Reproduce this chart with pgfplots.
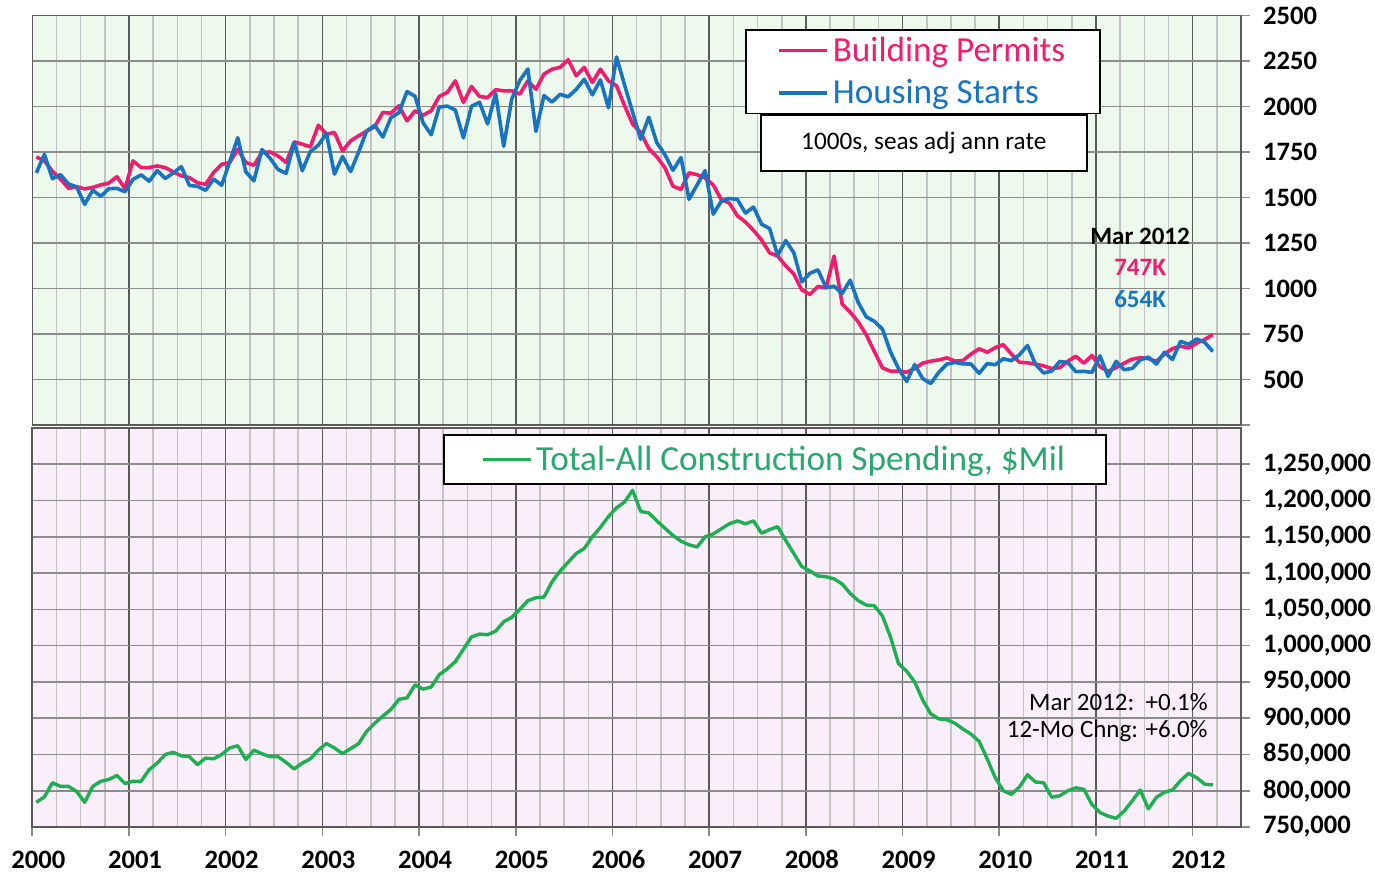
\documentclass[border=0pt]{standalone}
\usepackage{pgfplots}
\pgfplotsset{compat=1.18}
\usepackage{pgfplotstable}
\usepackage{fontspec}
\setmainfont{Carlito}
\definecolor{bpink}{RGB}{240,28,110}
\definecolor{hblue}{RGB}{24,116,190}
\definecolor{cgreen}{RGB}{30,176,80}
\definecolor{cgtext}{RGB}{40,168,110}
\definecolor{bggreen}{RGB}{238,249,238}
\definecolor{bgpink}{RGB}{251,238,251}
\definecolor{gridmaj}{RGB}{90,90,90}
\definecolor{gridmid}{RGB}{140,140,140}
\definecolor{gridmin}{RGB}{195,195,195}

\pgfplotstableread{
p s c
1724 1636 784000
1702 1737 791500
1645 1604 811000
1601 1626 806000
1551 1575 806000
1560 1559 799000
1548 1463 784000
1556 1541 806000
1570 1507 813000
1580 1549 815500
1615 1551 821000
1550 1532 810000
1702 1600 813000
1665 1625 813000
1665 1590 829000
1674 1649 838000
1665 1605 850000
1641 1636 853000
1620 1670 848000
1610 1567 847000
1582 1562 836000
1573 1540 845000
1638 1602 844000
1683 1568 850000
1693 1698 859000
1766 1829 862000
1693 1642 843000
1678 1592 856000
1748 1764 851000
1751 1717 847000
1729 1655 847000
1693 1633 839000
1806 1804 830000
1794 1648 838000
1779 1753 844000
1898 1788 856000
1849 1853 865000
1858 1629 859000
1757 1726 851000
1812 1643 858000
1840 1751 865000
1865 1867 882000
1890 1897 893000
1968 1833 903000
1964 1939 912000
2005 1967 926000
1922 2083 928000
1977 2057 946000
1953 1911 940000
1977 1846 943000
2056 1998 960000
2078 2003 968000
2142 1981 978000
2023 1828 995000
2111 2002 1012000
2056 2024 1016000
2050 1905 1015000
2093 2072 1020000
2087 1782 1033000
2087 2042 1039000
2069 2144 1050000
2142 2207 1062000
2096 1864 1066000
2179 2061 1067000
2206 2025 1088000
2216 2068 1103000
2258 2054 1115000
2170 2095 1127000
2216 2151 1134000
2133 2065 1150000
2206 2147 1163000
2142 1994 1178000
2115 2273 1190000
2005 2119 1198000
1904 1969 1214000
1858 1821 1185000
1770 1942 1183000
1725 1802 1172000
1665 1737 1162000
1563 1650 1152000
1545 1720 1144000
1636 1491 1139000
1626 1570 1136000
1608 1649 1150000
1570 1409 1154000
1489 1480 1161000
1470 1495 1168000
1400 1490 1172000
1366 1415 1168000
1320 1448 1172000
1267 1354 1155000
1196 1330 1160000
1179 1183 1164000
1125 1264 1145000
1080 1197 1127000
992 1037 1109000
968 1084 1103000
1012 1103 1096000
1004 1005 1095000
1179 1013 1092000
915 973 1085000
870 1046 1072000
817 923 1062000
745 844 1056000
654 820 1055000
564 777 1041000
546 652 1012000
546 560 975000
540 490 965000
560 582 950000
590 505 925000
601 478 906000
608 540 899000
619 585 898000
601 594 893000
605 586 885000
640 585 878000
669 534 868000
650 588 844000
675 581 818000
692 614 800000
640 604 795000
595 636 805000
592 687 822000
585 583 812000
575 536 811000
560 546 791000
565 599 793000
600 594 800000
628 543 804000
590 545 802000
632 539 781000
570 630 770000
546 517 765000
565 600 762000
590 554 772000
612 561 786000
620 608 801000
615 623 775000
600 585 791000
640 650 798000
670 610 801000
683 710 814000
674 694 824000
700 723 818000
720 704 809000
747 654 808000
}\datatable

\pgfplotsset{
  panel/.style={
    scale only axis,
    width=604.35pt,
    xmin=-0.5, xmax=149.5,
    xtick={-0.5,11.5,...,143.5},
    minor xtick={2.5,5.5,8.5,14.5,17.5,20.5,26.5,29.5,32.5,38.5,41.5,44.5,50.5,53.5,56.5,62.5,65.5,68.5,74.5,77.5,80.5,86.5,89.5,92.5,98.5,101.5,104.5,110.5,113.5,116.5,122.5,125.5,128.5,134.5,137.5,140.5,146.5},
    xmajorgrids, xminorgrids, ymajorgrids,
    major x grid style={gridmaj, line width=0.8pt},
    minor x grid style={gridmin, line width=0.8pt},
    major y grid style={gridmid, line width=0.8pt},
    axis line style={gridmaj, line width=0.8pt},
    tick align=outside,
    major tick length=4.5pt,
    minor tick length=0pt,
    ytick pos=right,
    yticklabel pos=right,
    ytick style={gridmid, line width=0.8pt},
    yticklabel style={font=\bfseries\fontsize{13.3}{15}\selectfont, anchor=west, xshift=3pt},
    scaled y ticks=false,
    legend image code/.code={\draw[#1] (0pt,0pt) -- (24pt,0pt);},
  }
}

\begin{document}
\begin{tikzpicture}
\useasboundingbox (0,0) rectangle (687.5pt,-436pt);

\begin{axis}[panel,
  at={(16.15pt,-7.85pt)}, anchor=north west,
  height=204.65pt,
  ymin=250, ymax=2500,
  ytick={250,500,...,2500},
  yticklabels={,500,750,1000,1250,1500,1750,2000,2250,2500},
  xticklabels={},
  xtick style={draw=none},
  axis background/.style={fill=bggreen},
  legend style={at={(rel axis cs:0.590,0.9675)}, anchor=north west,
    draw=black, line width=0.8pt, fill=white,
    font=\fontsize{17.6}{20}\selectfont,
    inner xsep=15.5pt, inner ysep=1.5pt, row sep=3.5pt,
    cells={anchor=west}},
]
\addplot[bpink, line width=1.8pt, line join=round] table[x expr=\coordindex, y=p] {\datatable};
\addlegendentry{\textcolor{bpink}{Building Permits}}
\addplot[hblue, line width=1.8pt, line join=round] table[x expr=\coordindex, y=s] {\datatable};
\addlegendentry{\textcolor{hblue}{Housing Starts}}
\node[draw=black, line width=0.8pt, fill=white, minimum width=163pt, minimum height=28pt, anchor=north west, font=\fontsize{12.6}{14}\selectfont] at (rel axis cs:0.602,0.760) {1000s, seas adj ann rate};
\node[font=\bfseries\fontsize{12.5}{14}\selectfont] at (rel axis cs:0.9165,0.4618) {Mar 2012};
\node[font=\bfseries\fontsize{12.5}{14}\selectfont, text=bpink] at (rel axis cs:0.9165,0.386) {747K};
\node[font=\bfseries\fontsize{12.5}{14}\selectfont, text=hblue] at (rel axis cs:0.9165,0.308) {654K};
\end{axis}

\begin{axis}[panel,
  at={(16.15pt,-214pt)}, anchor=north west,
  height=199.5pt,
  ymin=750000, ymax=1300000,
  ytick={750000,800000,...,1250000},
  yticklabels={{750,000},{800,000},{850,000},{900,000},{950,000},{1,000,000},{1,050,000},{1,100,000},{1,150,000},{1,200,000},{1,250,000}},
  xtick pos=bottom,
  xtick style={gridmid, line width=0.8pt},
  xticklabels={2000,2001,2002,2003,2004,2005,2006,2007,2008,2009,2010,2011,2012},
  xticklabel style={font=\bfseries\fontsize{13.3}{15}\selectfont, yshift=-3pt, xshift=3pt, text height=9.5pt, text depth=0pt},
  axis background/.style={fill=bgpink},
  legend style={at={(rel axis cs:0.3398,0.985)}, anchor=north west,
    draw=black, line width=0.8pt, fill=white,
    font=\fontsize{17.6}{20}\selectfont,
    inner xsep=18.5pt, inner ysep=3.5pt,
    cells={anchor=west}},
]
\addplot[cgreen, line width=1.7pt, line join=round] table[x expr=\coordindex, y=c] {\datatable};
\addlegendentry{\textcolor{cgtext}{Total-All Construction Spending, \$Mil}}
\node[anchor=east, inner sep=0pt, font=\fontsize{12.5}{14}\selectfont] at (rel axis cs:0.9727,0.313) {Mar 2012:\ \ +0.1\%};
\node[anchor=east, inner sep=0pt, font=\fontsize{12.5}{14}\selectfont] at (rel axis cs:0.9727,0.2406) {12-Mo Chng: +6.0\%};
\end{axis}
\end{tikzpicture}
\end{document}
